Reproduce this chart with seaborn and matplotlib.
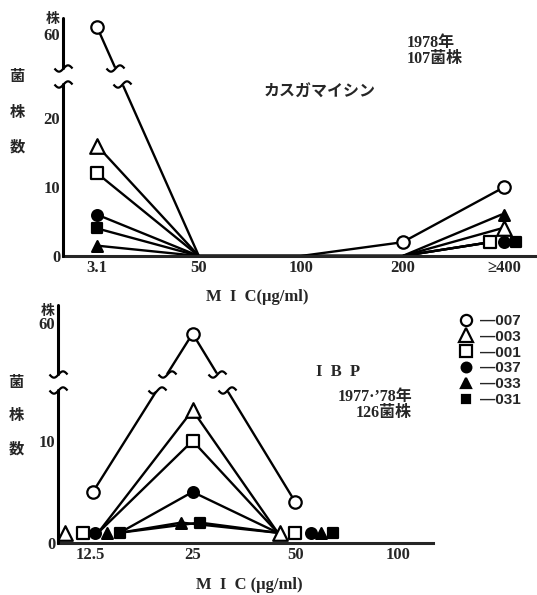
import numpy as np
import pandas as pd
import matplotlib
matplotlib.use("Agg")
import matplotlib.pyplot as plt
from matplotlib.path import Path
import seaborn as sns

# ---- data ----
series = ["007", "003", "001", "037", "033", "031"]

top_mic = ["3.1", "50", "100", "200", "≥400"]
top_007 = [61, 0, 0, 2, 10]
top_003 = [16, 0, 0, 0, 4]
top_001 = [12, 0, 0, 0, 2]
top_037 = [6, 0, 0, 0, 2]
top_033 = [1.5, 0, 0, 0, 6]
top_031 = [4, 0, 0, 0, 2]

bot_mic = ["12.5", "25", "50", "100"]
bot_007 = [5, 59, 4]
bot_003 = [1, 13, 1]
bot_001 = [1, 10, 1]
bot_037 = [1, 5, 1]
bot_033 = [1, 2, 1]
bot_031 = [1, 2, 1]

top_counts = dict(zip(series, [top_007, top_003, top_001, top_037, top_033, top_031]))
bot_counts = dict(zip(series, [bot_007, bot_003, bot_001, bot_037, bot_033, bot_031]))

# ---- styles: marker, face colour, size ----
mstyle = {
    "007": ("o", "white", 80),
    "003": ("^", "white", 110),
    "001": ("s", "white", 80),
    "037": ("o", "black", 60),
    "033": ("^", "black", 60),
    "031": ("s", "black", 42),
}

# side-by-side placement of overlapping symbols (category-index offsets)
top_mark_dx = {"001": {4: -0.14}, "031": {4: 0.11}}
top_line_dx = {"001": {4: -0.14}, "037": {4: -0.14}, "031": {4: -0.14},
               "003": {4: -0.03}, "033": {4: -0.03}}
bot_mark_dx = {"007": {0: 0.03},
               "003": {0: -0.24, 2: -0.15},
               "001": {0: -0.07},
               "037": {0: 0.05, 2: 0.15},
               "033": {0: 0.17, 1: -0.11, 2: 0.25},
               "031": {0: 0.29, 1: 0.07, 2: 0.37}}
bot_line_dx = {"007": {0: 0.03},
               "003": {0: 0.08, 2: -0.17},
               "001": {0: 0.08, 2: -0.17},
               "037": {0: 0.29, 2: -0.17},
               "033": {0: 0.29, 1: -0.11, 2: -0.17},
               "031": {0: 0.29, 1: 0.07, 2: -0.17}}


def long_table(counts, mark_dx, line_dx):
    rows = []
    for s in series:
        for i, v in enumerate(counts[s]):
            rows.append({"series": s, "pos": i, "count": v,
                         "mx": i + mark_dx.get(s, {}).get(i, 0.0),
                         "lx": i + line_dx.get(s, mark_dx.get(s, {})).get(i, 0.0)})
    return pd.DataFrame(rows)


def make_break(lo, hi, gap):
    k = gap / (hi - lo)
    shift = hi - lo - gap

    def fwd(y):
        y = np.asarray(y, dtype=float)
        return np.where(y <= lo, y, np.where(y >= hi, y - shift, lo + (y - lo) * k))

    def inv(t):
        t = np.asarray(t, dtype=float)
        return np.where(t <= lo, t, np.where(t >= lo + gap, t + shift, lo + (t - lo) / k))
    return fwd, inv


tx = np.linspace(-1, 1, 25)
tilde = Path(np.column_stack([tx, 0.35 * np.sin(np.pi * tx)]), closed=False)

sns.set_style("white")
plt.rcParams["font.family"] = ["Liberation Serif", "Noto Sans CJK JP"]
plt.rcParams["font.weight"] = "bold"

fig = plt.figure(figsize=(5.37, 5.95), dpi=100)
W, H = 537.0, 595.0


def fig_ax(l, t, r, b):
    return fig.add_axes([l / W, 1 - b / H, (r - l) / W, (b - t) / H])


def draw_panel(ax, df, labels, lo, hi, gap, ytop, xlim):
    fwd, inv = make_break(lo, hi, gap)
    ax.set_yscale("function", functions=(fwd, inv))
    sns.lineplot(data=df, x="lx", y="count", units="series", estimator=None,
                 sort=False, color="black", lw=1.7, ax=ax, legend=False, zorder=2)
    for s in series:
        m, fc, sz = mstyle[s]
        d = df[(df["series"] == s) & (df["count"] > 0)]
        sns.scatterplot(data=d, x="mx", y="count", marker=m, s=sz, color=fc,
                        edgecolor="black", linewidth=1.6, ax=ax, zorder=4,
                        clip_on=False, legend=False)
    ax.axhspan(lo, hi, color="white", zorder=3)
    ax.set_ylim(0, ytop)
    ax.set_xlim(*xlim)
    ax.set_xticks(range(len(labels)))
    ax.set_xticklabels(labels)
    ax.set_yticks([0, 10, 20, 60] if lo > 20 else [0, 10, 60])
    ax.set_xlabel("")
    ax.set_ylabel("")
    for side in ["top", "right", "left"]:
        ax.spines[side].set_visible(False)
    ax.spines["bottom"].set_linewidth(2.2)
    ax.tick_params(direction="in", length=4, width=1.5, labelsize=12, pad=3)
    ax.tick_params(axis="y", pad=2)
    ytr = ax.get_yaxis_transform()
    ax.plot([0, 0], [0, lo], transform=ytr, color="black", lw=2.2, clip_on=False, zorder=5)
    ax.plot([0, 0], [hi, ytop], transform=ytr, color="black", lw=2.2, clip_on=False, zorder=5)
    ax.plot([0, 0], [lo, hi], transform=ytr, ls="none", marker=tilde, ms=13,
            mfc="none", mec="black", mew=1.6, clip_on=False, zorder=6)
    # break marks on the 007 line where it crosses the gap
    d = df[df["series"] == "007"].sort_values("pos")
    xs, ys = d["lx"].to_numpy(), fwd(d["count"].to_numpy())
    for j in range(len(xs) - 1):
        for lev, val in [(lo, lo), (lo + gap, hi)]:
            if (ys[j] - lev) * (ys[j + 1] - lev) < 0:
                xc = xs[j] + (lev - ys[j]) / (ys[j + 1] - ys[j]) * (xs[j + 1] - xs[j])
                ax.plot([xc], [val], ls="none", marker=tilde, ms=13, mfc="none",
                        mec="black", mew=1.6, zorder=6)


ax1 = fig_ax(63, 18, 537, 256)
draw_panel(ax1, long_table(top_counts, top_mark_dx, top_line_dx), top_mic,
           25, 55, 2.2, 62.3, (-0.334, 4.32))

ax2 = fig_ax(58, 305, 433, 543)
draw_panel(ax2, long_table(bot_counts, bot_mark_dx, bot_line_dx), bot_mic,
           15, 55, 1.5, 61.8, (-0.31, 3.34))


def ftext(x, y, s, size=12, **kw):
    fig.text(x / W, 1 - y / H, s, fontsize=size, fontweight="bold", **kw)


for yy, ch in zip([77, 113, 147], "菌株数"):
    ftext(17, yy, ch, 11, ha="center", va="center")
for yy, ch in zip([383, 416, 449], "菌株数"):
    ftext(16, yy, ch, 11, ha="center", va="center")
ftext(53, 20, "株", 10, ha="center", va="center")
ftext(48, 311, "株", 10, ha="center", va="center")

ftext(257, 297, "M  I  C(μg/ml)", 12, ha="center", va="center")
ftext(249, 585, "M  I  C (μg/ml)", 12, ha="center", va="center")
ftext(320, 93, "カスガマイシン", 11.5, ha="center", va="center", zorder=7)
ftext(407, 43, "1978年", 11.5, ha="left", va="center")
ftext(407, 59, "107菌株", 11.5, ha="left", va="center")
ftext(338, 372, "I  B  P", 12, ha="center", va="center", zorder=7)
ftext(412, 397, "1977·’78年", 11.5, ha="right", va="center")
ftext(412, 413, "126菌株", 11.5, ha="right", va="center")

# legend of symbols
handles = []
for s in series:
    m, fc, sz = mstyle[s]
    handles.append(plt.Line2D([], [], ls="none", marker=m, ms=np.sqrt(sz) * 0.9,
                              mfc=fc, mec="black", mew=1.6))
fig.legend(handles, ["—" + s for s in series], loc="upper left",
           bbox_to_anchor=(459 / W, 1 - 314 / H), frameon=False,
           handlelength=0.9, handletextpad=0.5, labelspacing=0.12,
           borderaxespad=0, borderpad=0,
           prop={"family": ["Liberation Sans", "DejaVu Sans"],
                 "weight": "bold", "size": 11})

fig.savefig("out.png", dpi=100)
